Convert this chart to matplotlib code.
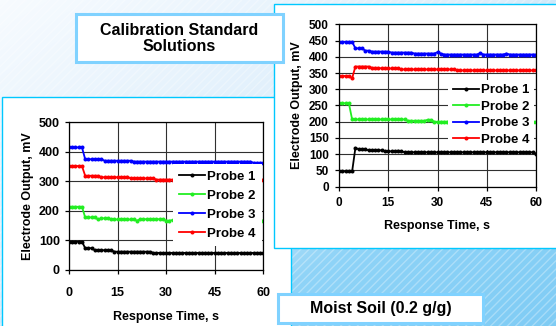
import numpy as np
import matplotlib
matplotlib.use("Agg")
import matplotlib.pyplot as plt
from matplotlib.patches import Rectangle

# ---- DATA (1 s sampling) ----
time_s = list(range(61))

# Calibration standard solutions (left chart)
cal_probe1 = [96, 96, 96, 96, 96, 74, 74, 74, 67, 67,
              67, 67, 67, 67, 62, 62, 62, 62, 62, 62,
              62, 62, 62, 62, 62, 62, 58, 58, 58, 58,
              58, 58, 58, 58, 58, 58, 58, 58, 58, 58,
              58, 58, 58, 58, 58, 58, 58, 58, 58, 58,
              58, 58, 58, 58, 58, 58, 58, 58, 58, 58,
              58]
cal_probe2 = [214, 214, 214, 214, 214, 178, 178, 178, 178, 171,
              175, 175, 175, 171, 171, 171, 171, 171, 171, 171,
              171, 167, 172, 172, 172, 172, 172, 172, 172, 172,
              167, 167, 169, 169, 169, 169, 169, 169, 169, 169,
              169, 169, 169, 169, 169, 169, 169, 169, 169, 169,
              169, 169, 169, 169, 169, 169, 169, 169, 169, 169,
              166]
cal_probe3 = [415, 415, 415, 415, 415, 375, 375, 375, 375, 375,
              375, 370, 370, 370, 370, 370, 370, 370, 370, 370,
              367, 367, 367, 367, 367, 367, 367, 367, 367, 367,
              367, 367, 367, 367, 367, 367, 367, 367, 367, 367,
              367, 367, 367, 367, 367, 367, 367, 367, 367, 367,
              367, 367, 367, 367, 367, 367, 367, 363, 363, 363,
              363]
cal_probe4 = [352, 352, 352, 352, 352, 319, 319, 319, 319, 319,
              314, 314, 314, 314, 314, 314, 314, 314, 316, 310,
              310, 310, 310, 310, 310, 310, 310, 306, 306, 306,
              306, 306, 306, 306, 306, 306, 306, 306, 306, 306,
              306, 306, 306, 306, 306, 306, 306, 306, 306, 306,
              306, 306, 306, 306, 306, 306, 306, 306, 306, 306,
              306]

# Moist soil, 0.2 g/g (right chart)
soil_probe1 = [47, 47, 47, 47, 47, 120, 115, 115, 115, 112,
               112, 112, 112, 112, 109, 109, 109, 109, 111, 109,
               106, 106, 106, 106, 106, 106, 106, 106, 106, 106,
               106, 106, 106, 106, 106, 106, 106, 106, 106, 106,
               106, 106, 106, 106, 106, 106, 106, 106, 106, 106,
               106, 106, 106, 106, 106, 106, 106, 106, 106, 106,
               102]
soil_probe2 = [257, 257, 257, 257, 207, 207, 207, 207, 207, 207,
               207, 207, 207, 207, 207, 207, 207, 207, 207, 207,
               207, 203, 203, 203, 203, 203, 203, 206, 206, 200,
               200, 200, 200, 200, 200, 200, 200, 200, 200, 200,
               200, 200, 200, 200, 200, 200, 200, 200, 200, 200,
               200, 200, 200, 200, 200, 200, 200, 200, 200, 200,
               200]
soil_probe3 = [446, 446, 446, 446, 446, 426, 426, 426, 419, 419,
               416, 416, 416, 416, 416, 416, 413, 413, 413, 413,
               413, 413, 413, 410, 410, 410, 410, 410, 410, 410,
               414, 410, 407, 407, 407, 407, 407, 407, 407, 407,
               407, 407, 407, 411, 407, 407, 407, 407, 407, 407,
               407, 410, 407, 407, 407, 407, 407, 407, 407, 407,
               407]
soil_probe4 = [341, 341, 341, 341, 334, 370, 370, 370, 370, 370,
               366, 366, 366, 364, 364, 364, 364, 364, 364, 361,
               361, 361, 361, 361, 361, 361, 361, 361, 361, 361,
               361, 361, 361, 361, 361, 361, 358, 358, 358, 358,
               358, 358, 358, 358, 358, 358, 358, 358, 358, 358,
               358, 358, 358, 358, 358, 358, 358, 358, 358, 358,
               358]

PROBE_LABELS = ["Probe 1", "Probe 2", "Probe 3", "Probe 4"]
PROBE_COLORS = ["black", "#22EE22", "#0000FF", "#FF0000"]
X_TICKS = [0, 15, 30, 45, 60]

# ---- LAYOUT (pixels of the 556x326 canvas) ----
W, H = 556, 326
PANEL_EDGE = "#00C8FF"
LABEL_EDGE = "#80D2FF"

CHARTS = [
    {
        "series": [cal_probe1, cal_probe2, cal_probe3, cal_probe4],
        "box": (69, 122.3, 263.3, 270),
        "yticks": list(range(0, 501, 100)),
        "tick_size": 9, "label_size": 9, "legend_size": 9.5,
        "xpad": 9, "ypad": 3.6, "xlabelpad": 9, "ylabelpad": 3.5,
        "legend_anchor": (0.535, 0.715), "labelspacing": 0.52,
        "borderpad": 0.45,
    },
    {
        "series": [soil_probe1, soil_probe2, soil_probe3, soil_probe4],
        "box": (339, 24.3, 536, 186.7),
        "yticks": list(range(0, 501, 50)),
        "tick_size": 8.5, "label_size": 9, "legend_size": 9.5,
        "xpad": 4.5, "ypad": 4.3, "xlabelpad": 8, "ylabelpad": 4,
        "legend_anchor": (0.553, 0.66), "labelspacing": 0.32,
        "borderpad": 0.35,
    },
]


def px_rect(x0, y0, x1, y1):
    return [x0 / W, 1 - y1 / H, (x1 - x0) / W, (y1 - y0) / H]


def draw_background(fig):
    ax = fig.add_axes([0, 0, 1, 1], zorder=-5)
    ax.set_xlim(0, W)
    ax.set_ylim(H, 0)
    ax.axis("off")

    # diagonal white -> light blue wash
    xx, yy = np.meshgrid(np.linspace(0, 1, 280), np.linspace(0, 1, 165))
    t = 0.5 * xx + 0.5 * yy
    stops = [0.0, 0.45, 0.7, 1.0]
    cols = np.array([[0.97, 0.985, 1.0], [0.87, 0.935, 0.985],
                     [0.56, 0.83, 0.97], [0.50, 0.80, 0.96]])
    img = np.dstack([np.interp(t, stops, cols[:, k]) for k in range(3)])
    ax.imshow(img, extent=(0, W, H, 0), aspect="auto", interpolation="bilinear")
    ax.add_patch(Rectangle((0, 0), W, H, facecolor="none",
                           edgecolor=(1, 1, 1, 0.3), lw=0, hatch="////"))

    # white panels behind the two charts
    ax.add_patch(Rectangle((2, 97), 289, 240, facecolor="white",
                           edgecolor=PANEL_EDGE, lw=1.0))
    ax.add_patch(Rectangle((274, 4), 292, 244, facecolor="white",
                           edgecolor=PANEL_EDGE, lw=1.0))

    # caption boxes
    ax.add_patch(Rectangle((76, 14), 207, 48, facecolor="white",
                           edgecolor=LABEL_EDGE, lw=2.2))
    ax.text(179.5, 38.5, "Calibration Standard\nSolutions", ha="center",
            va="center", fontsize=11.5, fontweight="bold", linespacing=1.15)
    ax.add_patch(Rectangle((278, 294), 205, 29, facecolor="white",
                           edgecolor=LABEL_EDGE, lw=2.2))
    ax.text(380.5, 308.5, "Moist Soil (0.2 g/g)", ha="center", va="center",
            fontsize=11.5, fontweight="bold")


def draw_chart(fig, cfg):
    ax = fig.add_axes(px_rect(*cfg["box"]))
    ax.set_facecolor("white")

    for values, label, color in zip(cfg["series"], PROBE_LABELS, PROBE_COLORS):
        ax.plot(time_s, values, color=color, lw=1.3, marker="o",
                markersize=2.9, markeredgewidth=0, label=label)

    ax.set_xlim(0, 60)
    ax.set_ylim(0, 500)
    ax.set_xticks(X_TICKS)
    ax.set_yticks(cfg["yticks"])
    ax.grid(True, color="#303030", lw=0.8)
    for spine in ax.spines.values():
        spine.set_color("black")
        spine.set_linewidth(0.9)

    ax.tick_params(axis="both", direction="out", length=3, width=0.9,
                   labelsize=cfg["tick_size"])
    ax.tick_params(axis="x", pad=cfg["xpad"])
    ax.tick_params(axis="y", pad=cfg["ypad"])
    for lab in ax.get_xticklabels() + ax.get_yticklabels():
        lab.set_fontweight("bold")

    ax.set_xlabel("Response Time, s", fontsize=cfg["label_size"],
                  fontweight="bold", labelpad=cfg["xlabelpad"])
    ax.set_ylabel("Electrode Output, mV", fontsize=cfg["label_size"],
                  fontweight="bold", labelpad=cfg["ylabelpad"])

    leg = ax.legend(loc="upper left", bbox_to_anchor=cfg["legend_anchor"],
                    borderaxespad=0, frameon=True, fancybox=False,
                    handlelength=2.0, handletextpad=0.15,
                    borderpad=cfg["borderpad"],
                    labelspacing=cfg["labelspacing"],
                    prop={"weight": "bold", "size": cfg["legend_size"]})
    leg.get_frame().set_facecolor("white")
    leg.get_frame().set_edgecolor("none")
    leg.get_frame().set_alpha(1)
    return ax


def main():
    plt.rcParams["font.family"] = ["Liberation Sans", "DejaVu Sans"]
    fig = plt.figure(figsize=(W / 100, H / 100), dpi=100)
    draw_background(fig)
    for cfg in CHARTS:
        draw_chart(fig, cfg)
    fig.savefig("out.png", dpi=100)


if __name__ == "__main__":
    main()
